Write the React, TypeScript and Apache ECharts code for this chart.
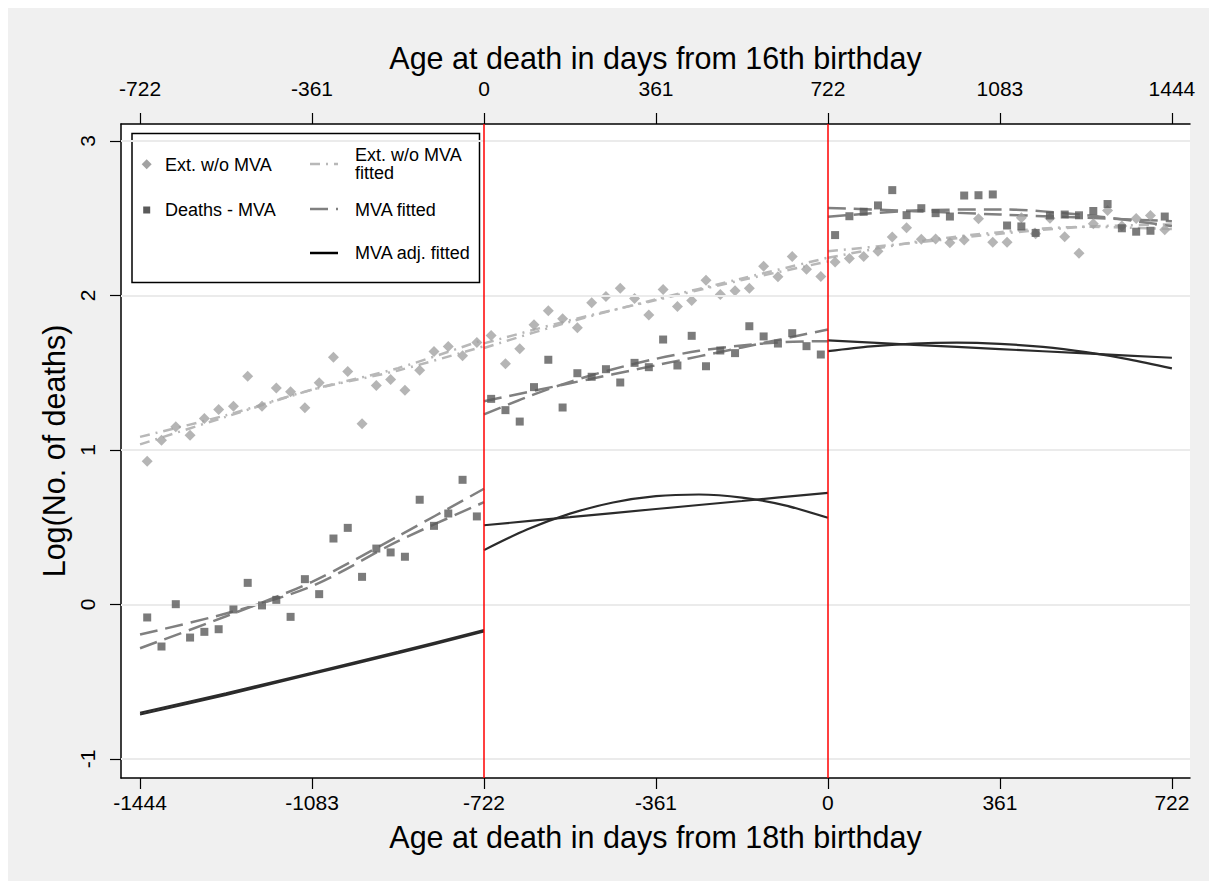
import React, { useEffect, useRef } from "react";
import * as echarts from "echarts";

// Month mid-points (days from 18th birthday), three 2-year segments
const xLeft = [-1429, -1399, -1369, -1339, -1309, -1279, -1248, -1218, -1188, -1158, -1128, -1098, -1068, -1038, -1008, -978, -948, -918, -888, -857, -827, -797, -767, -737];
const xMid = [-707, -677, -647, -617, -587, -557, -526, -496, -466, -436, -406, -376, -346, -316, -286, -256, -226, -195, -165, -135, -105, -75, -45, -15];
const xRight = [15, 45, 75, 105, 135, 165, 196, 226, 256, 286, 316, 346, 376, 406, 436, 466, 497, 527, 557, 587, 617, 647, 677, 707];

// Ext. w/o MVA (log deaths)
const extLeft = [0.927, 1.063, 1.150, 1.096, 1.204, 1.262, 1.283, 1.478, 1.283, 1.402, 1.377, 1.273, 1.435, 1.601, 1.508, 1.170, 1.417, 1.456, 1.387, 1.516, 1.638, 1.670, 1.610, 1.696];
const extMid = [1.741, 1.558, 1.655, 1.810, 1.901, 1.849, 1.791, 1.953, 1.994, 2.047, 1.981, 1.873, 2.039, 1.929, 1.968, 2.099, 2.006, 2.030, 2.047, 2.190, 2.121, 2.252, 2.170, 2.123];
const extRight = [2.216, 2.240, 2.252, 2.286, 2.379, 2.438, 2.364, 2.366, 2.341, 2.360, 2.497, 2.345, 2.345, 2.503, 2.400, 2.500, 2.380, 2.274, 2.464, 2.550, 2.450, 2.498, 2.518, 2.425];

// Deaths - MVA (log deaths)
const mvaLeft = [-0.084, -0.272, 0.002, -0.214, -0.177, -0.160, -0.032, 0.140, -0.006, 0.030, -0.080, 0.164, 0.067, 0.427, 0.496, 0.179, 0.362, 0.337, 0.309, 0.678, 0.509, 0.589, 0.807, 0.570];
const mvaMid = [1.331, 1.258, 1.184, 1.407, 1.584, 1.275, 1.497, 1.474, 1.523, 1.437, 1.564, 1.536, 1.715, 1.547, 1.739, 1.542, 1.644, 1.627, 1.801, 1.735, 1.689, 1.756, 1.672, 1.618];
const mvaRight = [2.391, 2.513, 2.542, 2.583, 2.682, 2.520, 2.565, 2.533, 2.511, 2.647, 2.649, 2.654, 2.453, 2.447, 2.405, 2.518, 2.524, 2.519, 2.547, 2.592, 2.435, 2.413, 2.419, 2.511];

// Fitted curves sampled along each segment (5 points = quarters, 9 points = eighths)
const fitXLeft5 = [-1444, -1263.5, -1083, -902.5, -722];
const fitXMid5 = [-722, -541.5, -361, -180.5, 0];
const fitXRight5 = [0, 180.5, 361, 541.5, 722];
const fitXMid9 = [-722, -631.75, -541.5, -451.25, -361, -270.75, -180.5, -90.25, 0];
const fitXRight9 = [0, 90.25, 180.5, 270.75, 361, 451.25, 541.5, 631.75, 722];

const extFitA = { left: [1.036, 1.215, 1.39, 1.53, 1.715], mid: [1.69, 1.84, 1.97, 2.10, 2.22], right: [2.287, 2.341, 2.40, 2.445, 2.46] };
const extFitB = { left: [1.085, 1.225, 1.39, 1.515, 1.672], mid: [1.66, 1.83, 1.975, 2.11, 2.245], right: [2.244, 2.345, 2.41, 2.445, 2.43] };
const mvaFitA = { left: [-0.194, -0.058, 0.119, 0.410, 0.662], mid: [1.316, 1.432, 1.548, 1.664, 1.780], right: [2.567, 2.546, 2.524, 2.503, 2.481] };
const mvaFitB = { left: [-0.283, -0.076, 0.147, 0.442, 0.749], mid: [1.230, 1.343, 1.441, 1.523, 1.590, 1.642, 1.677, 1.699, 1.704], right: [2.509, 2.550, 2.557, 2.520, 2.449] };
const adjFitA = { left: [-0.701, -0.575, -0.442, -0.306, -0.166], mid: [0.513, 0.565, 0.618, 0.670, 0.723], right: [1.709, 1.681, 1.653, 1.625, 1.597] };
const adjFitB = { left: [-0.712, -0.585, -0.450, -0.315, -0.175], mid: [0.352, 0.485, 0.588, 0.660, 0.701, 0.712, 0.692, 0.642, 0.561], right: [1.640, 1.671, 1.689, 1.695, 1.687, 1.667, 1.633, 1.587, 1.528] };

const bottomTicks = [-1444, -1083, -722, -361, 0, 361, 722];
const topTicks = [-722, -361, 0, 361, 722, 1083, 1444];
const yTicks = [-1, 0, 1, 2, 3];
const cutoffs = [-722, 0];

const FONT = '"Liberation Sans", Arial, Helvetica, sans-serif';
const C_EXT = "#a2a2a2";
const C_EXTFIT = "#b8b8b8";
const C_MVA = "#5a5a5a";
const C_MVAFIT = "#808080";
const C_ADJ = "#2b2b2b";
const DASH_EXT = [10, 6, 2, 6];
const DASH_MVA = [18, 8];

const pair = (xs: number[], ys: number[]) => xs.map((x, i) => [x, ys[i]]);

const xsFor = (seg: string, n: number) => {
  if (seg === "left") return fitXLeft5;
  if (seg === "mid") return n === 9 ? fitXMid9 : fitXMid5;
  return n === 9 ? fitXRight9 : fitXRight5;
};

export default function App() {
  const ref = useRef<HTMLDivElement>(null);
  useEffect(() => {
    if (!ref.current) return;
    const chart = echarts.init(ref.current, null, { renderer: "svg" });

    const fitSeries: any[] = [];
    const addFit = (name: string, fit: any, color: string, width: number, dash: any) => {
      ["left", "mid", "right"].forEach((seg) => {
        const ys = fit[seg];
        fitSeries.push({
          name,
          type: "line",
          data: pair(xsFor(seg, ys.length), ys),
          smooth: 0.3,
          showSymbol: false,
          symbol: "none",
          z: 3,
          lineStyle: { color, width, type: dash },
        });
      });
    };
    addFit("Ext. w/o MVA fitted", extFitA, C_EXTFIT, 2.5, DASH_EXT);
    addFit("Ext. w/o MVA fitted", extFitB, C_EXTFIT, 2.5, DASH_EXT);
    addFit("MVA fitted", mvaFitA, C_MVAFIT, 2.5, DASH_MVA);
    addFit("MVA fitted", mvaFitB, C_MVAFIT, 2.5, DASH_MVA);
    addFit("MVA adj. fitted", adjFitA, C_ADJ, 2.2, "solid");
    addFit("MVA adj. fitted", adjFitB, C_ADJ, 2.2, "solid");

    const axisCommon = {
      type: "value",
      splitLine: { show: false },
      axisLine: { show: true, onZero: false, lineStyle: { color: "#000", width: 1.5 } },
      nameLocation: "middle",
      nameTextStyle: { fontSize: 30.5, fontFamily: FONT, color: "#000" },
    };
    const labelCommon = { fontSize: 21, color: "#000", fontFamily: FONT, formatter: (v: number) => String(v) };
    const tickCommon = { show: true, length: 11, lineStyle: { color: "#000", width: 1.2 } };

    const option: any = {
      animation: false,
      backgroundColor: "#f0f0f0",
      textStyle: { fontFamily: FONT },
      grid: { left: 113, top: 116, right: 19, bottom: 103, show: true, backgroundColor: "#ffffff", borderWidth: 0 },
      xAxis: [
        {
          ...axisCommon,
          position: "bottom",
          min: -1484,
          max: 760,
          name: "Age at death in days from 18th birthday",
          nameGap: 43,
          axisTick: { ...tickCommon, customValues: bottomTicks },
          axisLabel: { ...labelCommon, customValues: bottomTicks, margin: 14 },
        },
        {
          ...axisCommon,
          position: "top",
          min: -762,
          max: 1482,
          name: "Age at death in days from 16th birthday",
          nameGap: 51,
          axisTick: { ...tickCommon, customValues: topTicks },
          axisLabel: { ...labelCommon, customValues: topTicks, margin: 25 },
        },
      ],
      yAxis: {
        ...axisCommon,
        position: "left",
        min: -1.123,
        max: 3.11,
        name: "Log(No. of deaths)",
        nameGap: 50,
        axisTick: { ...tickCommon, customValues: yTicks },
        axisLabel: { ...labelCommon, customValues: yTicks, margin: 23, rotate: 90 },
      },
      series: [
        {
          name: "grid",
          type: "line",
          data: [[0, 0]],
          symbol: "none",
          lineStyle: { opacity: 0 },
          z: 1,
          silent: true,
          markLine: {
            silent: true,
            symbol: "none",
            label: { show: false },
            lineStyle: { color: "#ebebeb", width: 2, type: "solid" },
            data: yTicks.map((v) => ({ yAxis: v })),
          },
        },
        {
          name: "cutoffs",
          type: "line",
          data: [[0, 0]],
          symbol: "none",
          lineStyle: { opacity: 0 },
          z: 2,
          silent: true,
          markLine: {
            silent: true,
            symbol: "none",
            label: { show: false },
            lineStyle: { color: "#ff0000", width: 1.5, type: "solid" },
            data: cutoffs.map((v) => ({ xAxis: v })),
          },
        },
        ...fitSeries,
        {
          name: "Ext. w/o MVA",
          type: "scatter",
          symbol: "diamond",
          symbolSize: 11,
          z: 4,
          itemStyle: { color: C_EXT },
          data: [...pair(xLeft, extLeft), ...pair(xMid, extMid), ...pair(xRight, extRight)],
        },
        {
          name: "Deaths - MVA",
          type: "scatter",
          symbol: "rect",
          symbolSize: 8,
          z: 5,
          itemStyle: { color: C_MVA },
          data: [...pair(xLeft, mvaLeft), ...pair(xMid, mvaMid), ...pair(xRight, mvaRight)],
        },
      ],
      graphic: [
        {
          type: "group",
          z: 100,
          children: [
            { type: "rect", shape: { x: 124, y: 125.5, width: 347.5, height: 149 }, style: { fill: "#fff", stroke: "#000", lineWidth: 1.5 } },
            { type: "polygon", shape: { points: [[138.7, 151.3], [143.7, 156.3], [138.7, 161.3], [133.7, 156.3]] }, style: { fill: C_EXT } },
            { type: "text", x: 157, y: 157, style: { text: "Ext. w/o MVA", fontSize: 18, fontFamily: FONT, fill: "#000", verticalAlign: "middle" } },
            { type: "rect", shape: { x: 135.2, y: 198.5, width: 7, height: 7 }, style: { fill: C_MVA } },
            { type: "text", x: 157, y: 202, style: { text: "Deaths - MVA", fontSize: 18, fontFamily: FONT, fill: "#000", verticalAlign: "middle" } },
            { type: "line", shape: { x1: 302, y1: 156, x2: 330, y2: 156 }, style: { stroke: C_EXTFIT, lineWidth: 2.5, lineDash: DASH_EXT } },
            { type: "text", x: 347, y: 156, style: { text: "Ext. w/o MVA\nfitted", fontSize: 18, lineHeight: 18, fontFamily: FONT, fill: "#000", verticalAlign: "middle" } },
            { type: "line", shape: { x1: 302, y1: 201, x2: 330, y2: 201 }, style: { stroke: C_MVAFIT, lineWidth: 2.5, lineDash: DASH_MVA } },
            { type: "text", x: 347, y: 202, style: { text: "MVA fitted", fontSize: 18, fontFamily: FONT, fill: "#000", verticalAlign: "middle" } },
            { type: "line", shape: { x1: 302, y1: 245, x2: 330, y2: 245 }, style: { stroke: "#000", lineWidth: 2.5 } },
            { type: "text", x: 347, y: 245, style: { text: "MVA adj. fitted", fontSize: 18, fontFamily: FONT, fill: "#000", verticalAlign: "middle" } },
          ],
        },
      ],
    };
    chart.setOption(option);
    return () => chart.dispose();
  }, []);
  return <div ref={ref} style={{ width: 1201, height: 873 }} />;
}
